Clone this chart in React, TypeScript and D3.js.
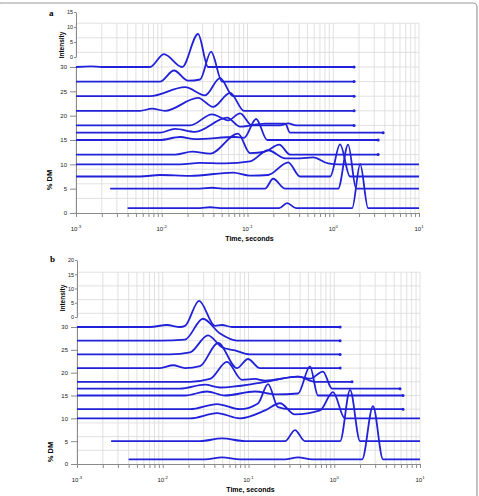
import React, { useRef, useEffect } from 'react';
import * as d3 from 'd3';

const timeExponents = [-3, -2, -1, 0, 1];
const dmTicks = [0, 5, 10, 15, 20, 25, 30];
const intensityTicksA = [0, 5, 10, 15];
const intensityTicksB = [0, 5, 10, 15, 20];

// panel a — [time in s, intensity] per % DM level
const a30 = [[0.001, 0], [0.0015, 0.2], [0.002, 0], [0.0073, 0], [0.0106, 4.3], [0.0173, 0], [0.0265, 11], [0.0347, 0], [1.75, 0]];
const a27 = [[0.001, 0], [0.0095, 0], [0.0139, 3.7], [0.0203, 0.3], [0.028, 0.7], [0.0376, 10], [0.0506, 0], [1.75, 0]];
const a24 = [[0.001, 0], [0.0073, 0], [0.0187, 3], [0.032, 0.3], [0.0479, 6], [0.0679, 0], [1.75, 0]];
const a21 = [[0.001, 0], [0.0056, 0], [0.0077, 0.7], [0.0109, 0], [0.0265, 4.3], [0.0397, 1.3], [0.0627, 6], [0.0912, 0], [1.75, 0]];
const a18 = [[0.001, 0], [0.0214, 0], [0.0386, 3.7], [0.0594, 1.7], [0.082, 4], [0.113, 0], [0.24, 0], [0.298, 0.7], [0.369, 0], [1.75, 0]];
const a16_5 = [[0.001, 0], [0.0095, 0], [0.0143, 1.3], [0.0245, 0.3], [0.0578, 5], [0.082, 2], [0.16, 3], [0.275, 3], [0.314, 0], [3.82, 0]];
const a15 = [[0.001, 0], [0.0095, 0], [0.0164, 1], [0.0245, 0.3], [0.0716, 1], [0.0912, 0.7], [0.126, 7], [0.17, 0], [3.34, 0]];
const a12 = [[0.001, 0], [0.0143, 0], [0.0226, 1], [0.0366, 0.3], [0.0776, 7], [0.107, 0.5], [0.16, 1], [0.234, 3.3], [0.314, 0], [3.34, 0]];
const a10 = [[0.001, 0], [0.0164, 0], [0.028, 0.5], [0.0548, 0.3], [0.107, 1], [0.174, 4.7], [0.275, 2], [0.411, 2], [0.582, 2.3], [0.871, 0.3], [1.14, 0], [10, 0]];
const a7_5 = [[0.001, 0], [0.0056, 0], [0.0095, 0.5], [0.0214, 0.2], [0.0679, 1.3], [0.107, 0.3], [0.174, 0.5], [0.298, 4.7], [0.411, 0], [0.92, 0], [1.2, 10.7], [1.57, 0], [10, 0]];
const a5 = [[0.0025, 0], [0.028, 0], [0.0386, 0.3], [0.0506, 0], [0.16, 0], [0.199, 3.3], [0.275, 0], [1.14, 0], [1.49, 14.7], [1.85, 0], [10, 0]];
const a1 = [[0.004, 0], [0.028, 0], [0.0366, 0.3], [0.0479, 0], [0.234, 0], [0.29, 1.7], [0.369, 0], [1.66, 0], [2.06, 14.7], [2.55, 0], [10, 0]];

// panel b
const b30 = [[0.001, 0], [0.0071, 0], [0.0112, 0.7], [0.0159, 0], [0.0182, 0.4], [0.0265, 9.2], [0.0407, 0.4], [0.0491, 0.7], [0.0643, 0], [1.17, 0]];
const b27 = [[0.001, 0], [0.0093, 0], [0.0182, 0.4], [0.0294, 7.7], [0.0466, 2.5], [0.0735, 0], [1.17, 0]];
const b24 = [[0.001, 0], [0.0122, 0], [0.0208, 0.7], [0.0337, 6.7], [0.0491, 2.5], [0.0697, 1.4], [0.104, 0], [1.17, 0]];
const b21 = [[0.001, 0], [0.0093, 0], [0.0132, 1], [0.0182, 0], [0.0272, 0.7], [0.0441, 8.8], [0.0735, 0], [0.0986, 3.2], [0.136, 0], [1.17, 0]];
const b18 = [[0.001, 0], [0.0208, 0], [0.0356, 1], [0.0561, 7], [0.084, 0.7], [0.119, 1], [0.156, 0.4], [0.378, 1.8], [0.597, 0], [1.61, 0]];
const b16_5 = [[0.001, 0], [0.0159, 0], [0.0311, 1.4], [0.0466, 0.4], [0.136, 2], [0.378, 4.2], [0.521, 3.5], [0.739, 6], [0.942, 0], [5.85, 0]];
const b15 = [[0.001, 0], [0.0182, 0], [0.0328, 1.4], [0.0532, 0], [0.119, 1.4], [0.204, 0.4], [0.378, 0.7], [0.521, 10.2], [0.646, 0], [6.34, 0]];
const b12 = [[0.001, 0], [0.0208, 0], [0.043, 1.8], [0.0796, 0], [0.129, 2], [0.169, 8.8], [0.221, 0.7], [0.3, 0], [6.34, 0]];
const b10 = [[0.001, 0], [0.0208, 0], [0.043, 1.8], [0.0796, 0], [0.156, 2.8], [0.233, 5.3], [0.348, 1.4], [0.682, 2.8], [0.967, 9.2], [1.33, 0], [10, 0]];
const b5 = [[0.0025, 0], [0.0272, 0], [0.0491, 1], [0.091, 0], [0.267, 0], [0.348, 3.9], [0.456, 0], [1.17, 0], [1.53, 18], [2.0, 0], [10, 0]];
const b1 = [[0.004, 0], [0.0311, 0], [0.0491, 0.7], [0.0796, 0], [0.267, 0], [0.378, 0.7], [0.551, 0], [2.11, 0], [2.83, 18.7], [3.71, 0], [10, 0]];

const seriesA = [
    { dm: 30, points: a30 }, { dm: 27, points: a27 }, { dm: 24, points: a24 }, { dm: 21, points: a21 },
    { dm: 18, points: a18 }, { dm: 16.5, points: a16_5 }, { dm: 15, points: a15 }, { dm: 12, points: a12 },
    { dm: 10, points: a10 }, { dm: 7.5, points: a7_5 }, { dm: 5, points: a5 }, { dm: 1, points: a1 },
];
const seriesB = [
    { dm: 30, points: b30 }, { dm: 27, points: b27 }, { dm: 24, points: b24 }, { dm: 21, points: b21 },
    { dm: 18, points: b18 }, { dm: 16.5, points: b16_5 }, { dm: 15, points: b15 }, { dm: 12, points: b12 },
    { dm: 10, points: b10 }, { dm: 5, points: b5 }, { dm: 1, points: b1 },
];

const FONT = 'Liberation Sans, Arial, sans-serif';
const LINE = '#2121d9';

const layoutA = { left: 76, right: 419, bottom: 213, top30: 67, gridTop: 39, iZero: 57, iTop: 12, iMax: 15, letterY: 16, intensityY: 45, dmY: 180 };
const layoutB = { left: 77, right: 420, bottom: 464, top30: 327, gridTop: 42, iZero: 317, iTop: 260, iMax: 20, letterY: 262, intensityY: 298, dmY: 452 };

const Panel = ({ letter, series, intensityTicks, layout }) => {
    const ref = useRef(null);

    useEffect(() => {
        const g = d3.select(ref.current);
        g.selectAll('*').remove();
        const { left, right, bottom, top30, gridTop, iZero, iTop, iMax } = layout;

        const x = d3.scaleLog().domain([1e-3, 10]).range([left, right]);
        const y = d3.scaleLinear().domain([0, 30]).range([bottom, top30]);
        const yi = d3.scaleLinear().domain([0, iMax]).range([iZero, iTop]);
        const pxPerUnit = (iZero - iTop) / iMax;
        const yTop = y(gridTop);

        // grid
        const grid = g.append('g').attr('stroke', '#d9d9d9').attr('stroke-width', 0.8);
        grid.selectAll('line.v')
            .data(x.ticks())
            .join('line')
            .attr('x1', d => x(d)).attr('x2', d => x(d))
            .attr('y1', yTop).attr('y2', bottom);
        grid.selectAll('line.h')
            .data(d3.range(3, gridTop + 0.1, 3))
            .join('line')
            .attr('x1', left).attr('x2', right)
            .attr('y1', d => y(d)).attr('y2', d => y(d));

        // x axis
        const xAxis = g.append('g')
            .attr('transform', `translate(0,${bottom})`)
            .call(d3.axisBottom(x).tickValues(x.ticks()).tickFormat(() => '').tickSize(4).tickSizeOuter(0));
        xAxis.select('.domain').attr('stroke', '#8a8a8a');
        xAxis.selectAll('.tick line').attr('stroke', '#8a8a8a');

        const xl = g.append('g').attr('font-family', FONT).attr('fill', '#222').attr('text-anchor', 'middle');
        timeExponents.forEach(e => {
            const t = xl.append('text')
                .attr('x', x(10 ** e))
                .attr('y', bottom + 18)
                .attr('font-size', 6);
            t.append('tspan').text('10');
            t.append('tspan').attr('dy', -3).attr('font-size', 4.3).text(String(e));
        });
        g.append('text')
            .attr('x', (left + right) / 2 + 2)
            .attr('y', bottom + 28)
            .attr('text-anchor', 'middle')
            .attr('font-family', FONT)
            .attr('font-weight', 'bold')
            .attr('font-size', 7)
            .text('Time, seconds');

        // % DM axis
        const yAxis = g.append('g')
            .attr('transform', `translate(${left},0)`)
            .call(d3.axisLeft(y).tickValues(dmTicks).tickSize(6).tickSizeOuter(0).tickPadding(3));
        yAxis.select('.domain').attr('stroke', '#8a8a8a');
        yAxis.selectAll('.tick line').attr('stroke', '#8a8a8a');
        yAxis.selectAll('.tick text').attr('font-family', FONT).attr('font-size', 6).attr('fill', '#222');
        g.append('text')
            .attr('transform', `translate(${left - 24},${layout.dmY}) rotate(-90)`)
            .attr('text-anchor', 'middle')
            .attr('font-family', FONT)
            .attr('font-weight', 'bold')
            .attr('font-size', 7.5)
            .text('% DM');

        // intensity scale
        const iAxis = g.append('g')
            .attr('transform', `translate(${left},0)`)
            .call(d3.axisLeft(yi).tickValues(intensityTicks).tickSize(2).tickSizeOuter(0).tickPadding(1));
        iAxis.select('.domain').attr('stroke', '#8a8a8a');
        iAxis.selectAll('.tick line').attr('stroke', '#8a8a8a');
        iAxis.selectAll('.tick text').attr('font-family', FONT).attr('font-size', 5.5).attr('fill', '#222');
        g.append('text')
            .attr('transform', `translate(${left - 12},${layout.intensityY}) rotate(-90)`)
            .attr('text-anchor', 'middle')
            .attr('font-family', FONT)
            .attr('font-weight', 'bold')
            .attr('font-size', 6.5)
            .text('Intensity');

        g.append('text')
            .attr('x', left - 27)
            .attr('y', layout.letterY)
            .attr('font-family', 'Liberation Serif, serif')
            .attr('font-weight', 'bold')
            .attr('font-size', 9)
            .text(letter);

        // curves, each offset to its % DM baseline
        const curves = g.append('g');
        series.forEach(s => {
            const base = y(s.dm);
            const line = d3.line()
                .x(d => x(d[0]))
                .y(d => base - d[1] * pxPerUnit)
                .curve(d3.curveMonotoneX);
            curves.append('path')
                .attr('d', line(s.points))
                .attr('fill', 'none')
                .attr('stroke', LINE)
                .attr('stroke-width', 1.8)
                .attr('stroke-linejoin', 'round');
            const last = s.points[s.points.length - 1];
            if (last[0] < 10) {
                curves.append('circle')
                    .attr('cx', x(last[0]))
                    .attr('cy', base - last[1] * pxPerUnit)
                    .attr('r', 1.5)
                    .attr('fill', LINE);
            }
        });
    }, [letter, series, intensityTicks, layout]);

    return <g ref={ref} />;
};

export default function App() {
    return (
        <svg width={479} height={496} style={{ position: 'absolute', left: 0, top: 0, background: '#fff' }}>
            <rect x={-3} y={3} width={480} height={500} rx={4} fill="#fff" stroke="#9a9a9a" strokeWidth={1.2} />
            <Panel letter="a" series={seriesA} intensityTicks={intensityTicksA} layout={layoutA} />
            <Panel letter="b" series={seriesB} intensityTicks={intensityTicksB} layout={layoutB} />
        </svg>
    );
}
